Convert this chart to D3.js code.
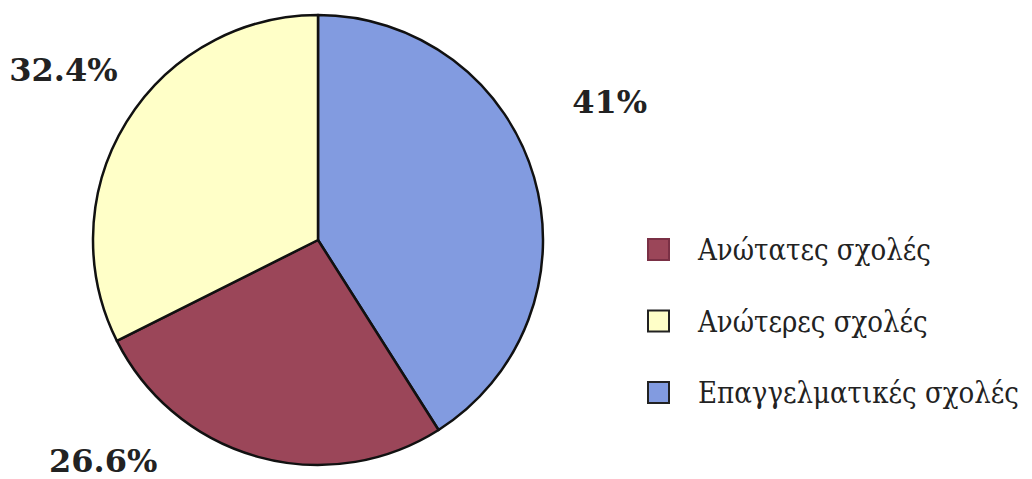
<!DOCTYPE html>
<html>
<head>
<meta charset="utf-8">
<script src="https://cdn.jsdelivr.net/npm/d3@7"></script>
<style>
  body { margin: 0; background: #fff; }
  svg { display: block; }
  text { font-family: 'DejaVu Serif', serif; }
  text.leg { font-family: 'DejaVu Serif Condensed', 'DejaVu Serif', serif; font-stretch: condensed; }
</style>
</head>
<body>
<svg width="1032" height="479"></svg>
<script>
// slices clockwise from 12 o'clock
const categories = ['Επαγγελματικές σχολές', 'Ανώτατες σχολές', 'Ανώτερες σχολές'];
const values = [41, 26.6, 32.4];
const labels = ['41%', '26.6%', '32.4%'];
const colors = ['#829be0', '#9b4659', '#ffffc8'];
// legend order
const legendOrder = ['Ανώτατες σχολές', 'Ανώτερες σχολές', 'Επαγγελματικές σχολές'];

const svg = d3.select('svg');
const cx = 318, cy = 240, r = 225;

const color = d3.scaleOrdinal().domain(categories).range(colors);

const pie = d3.pie().sort(null).value(d => d.value);
const arcs = pie(categories.map((c, i) => ({name: c, value: values[i], label: labels[i]})));

const arc = d3.arc().innerRadius(0).outerRadius(r);

const g = svg.append('g').attr('transform', `translate(${cx},${cy})`);

g.selectAll('path').data(arcs)
    .enter().append('path')
    .attr('d', arc)
    .attr('fill', d => color(d.data.name))
    .attr('stroke', '#111')
    .attr('stroke-width', 2.5)
    .attr('stroke-linejoin', 'round');

// percentage labels placed outside the pie, nudged like the original
const labelArc = d3.arc().innerRadius(r * 1.23).outerRadius(r * 1.23);
const labelShift = {'41%': [26, -61], '26.6%': [-141, -46], '32.4%': [-19, -25]};
g.selectAll('text.pct').data(arcs)
    .enter().append('text')
    .attr('class', 'pct')
    .attr('x', d => labelArc.centroid(d)[0] + labelShift[d.data.label][0])
    .attr('y', d => labelArc.centroid(d)[1] + labelShift[d.data.label][1])
    .attr('text-anchor', 'middle')
    .attr('dominant-baseline', 'central')
    .attr('font-weight', 'bold')
    .attr('font-size', 32)
    .attr('fill', '#222')
    .text(d => d.data.label);

// legend
const legendY = d3.scalePoint().domain(legendOrder).range([249, 392]);
const legend = svg.append('g').attr('transform', 'translate(648,0)');
const item = legend.selectAll('g').data(legendOrder)
    .enter().append('g')
    .attr('transform', d => `translate(0,${legendY(d)})`);
item.append('rect')
    .attr('x', 0).attr('y', -10)
    .attr('width', 21).attr('height', 21)
    .attr('fill', d => color(d))
    .attr('stroke', d => d === 'Ανώτατες σχολές' ? '#7a3045' : '#222')
    .attr('stroke-width', 2);
item.append('text')
    .attr('class', 'leg')
    .attr('x', 50).attr('y', 11)
    .attr('font-size', 29)
    .attr('fill', '#222')
    .text(d => d);
</script>
</body>
</html>
